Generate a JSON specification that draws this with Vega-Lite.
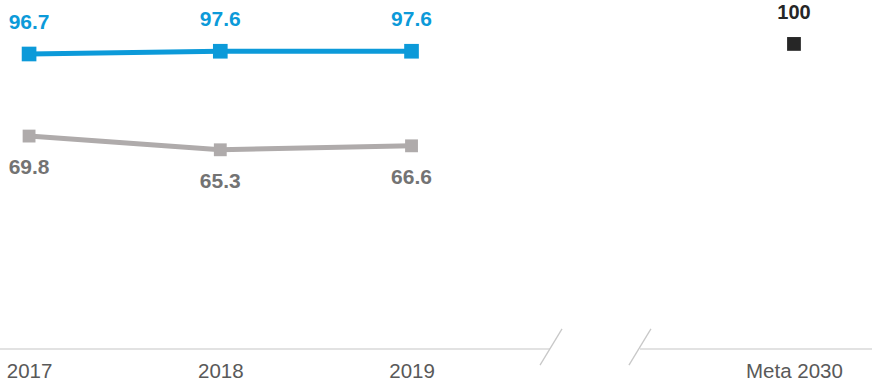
{
  "$schema": "https://vega.github.io/schema/vega-lite/v6.json",
  "width": 872,
  "height": 349,
  "padding": {"top": 0, "left": 0, "right": 0, "bottom": 38},
  "autosize": {"type": "none"},
  "background": "white",
  "config": {"view": {"stroke": null}, "font": "Liberation Sans"},
  "datasets": {
    "series": [
      {"series": "A", "idx": 0, "year": "2017", "value": 96.7},
      {"series": "A", "idx": 1, "year": "2018", "value": 97.6},
      {"series": "A", "idx": 2, "year": "2019", "value": 97.6},
      {"series": "B", "idx": 0, "year": "2017", "value": 69.8},
      {"series": "B", "idx": 1, "year": "2018", "value": 65.3},
      {"series": "B", "idx": 2, "year": "2019", "value": 66.6},
      {"series": "Meta", "idx": 4, "year": "Meta 2030", "value": 100}
    ],
    "axisline": [
      {"x": -0.152, "x2": 2.724, "y": 0},
      {"x": 3.195, "x2": 4.408, "y": 0}
    ],
    "slashes": [
      {"x": 2.672, "x2": 2.787, "y": -5.3, "y2": 6.6},
      {"x": 3.137, "x2": 3.252, "y": -5.3, "y2": 6.6}
    ]
  },
  "layer": [
    {
      "data": {"name": "axisline"},
      "mark": {"type": "rule", "color": "#D9D9D9", "strokeWidth": 1.5},
      "encoding": {
        "x": {"field": "x", "type": "quantitative", "scale": {"domain": [-0.152, 4.408], "nice": false, "zero": false},
          "axis": {"values": [0, 1, 2, 4], "labelExpr": "datum.value == 0 ? '2017' : datum.value == 1 ? '2018' : datum.value == 2 ? '2019' : 'Meta 2030'", "domain": false, "ticks": false, "grid": false, "title": null, "labelFontSize": 20.5, "labelColor": "#595959", "labelPadding": 12, "labelFont": "Liberation Sans", "labelFlush": false, "labelOverlap": false}},
        "x2": {"field": "x2"},
        "y": {"field": "y", "type": "quantitative", "scale": {"domain": [0, 114.4], "nice": false}, "axis": null}
      }
    },
    {
      "data": {"name": "slashes"},
      "mark": {"type": "rule", "color": "#C8C8C8", "strokeWidth": 1.3},
      "encoding": {
        "x": {"field": "x", "type": "quantitative"},
        "x2": {"field": "x2"},
        "y": {"field": "y", "type": "quantitative"},
        "y2": {"field": "y2"}
      }
    },
    {
      "data": {"name": "series"},
      "transform": [{"filter": "datum.series == 'B'"}],
      "layer": [
        {"mark": {"type": "line", "color": "#AFABAB", "strokeWidth": 5}},
        {"mark": {"type": "point", "shape": "square", "filled": true, "color": "#AFABAB", "size": 165, "opacity": 1}},
        {"mark": {"type": "text", "color": "#737373", "fontWeight": "bold", "fontSize": 21, "dy": 32},
          "encoding": {"text": {"field": "value", "type": "quantitative", "format": ".1f"}}}
      ],
      "encoding": {
        "x": {"field": "idx", "type": "quantitative"},
        "y": {"field": "value", "type": "quantitative"}
      }
    },
    {
      "data": {"name": "series"},
      "transform": [{"filter": "datum.series == 'A'"}],
      "layer": [
        {"mark": {"type": "line", "color": "#0C9AD9", "strokeWidth": 5}},
        {"mark": {"type": "point", "shape": "square", "filled": true, "color": "#0C9AD9", "size": 215, "opacity": 1}},
        {"mark": {"type": "text", "color": "#0C9AD9", "fontWeight": "bold", "fontSize": 21, "dy": -31},
          "encoding": {"text": {"field": "value", "type": "quantitative", "format": ".1f"}}}
      ],
      "encoding": {
        "x": {"field": "idx", "type": "quantitative"},
        "y": {"field": "value", "type": "quantitative"}
      }
    },
    {
      "data": {"name": "series"},
      "transform": [{"filter": "datum.series == 'Meta'"}],
      "layer": [
        {"mark": {"type": "point", "shape": "square", "filled": true, "color": "#262626", "size": 190, "opacity": 1}},
        {"mark": {"type": "text", "color": "#262626", "fontWeight": "bold", "fontSize": 20, "dy": -31},
          "encoding": {"text": {"field": "value", "type": "quantitative", "format": "d"}}}
      ],
      "encoding": {
        "x": {"field": "idx", "type": "quantitative"},
        "y": {"field": "value", "type": "quantitative"}
      }
    }
  ]
}
